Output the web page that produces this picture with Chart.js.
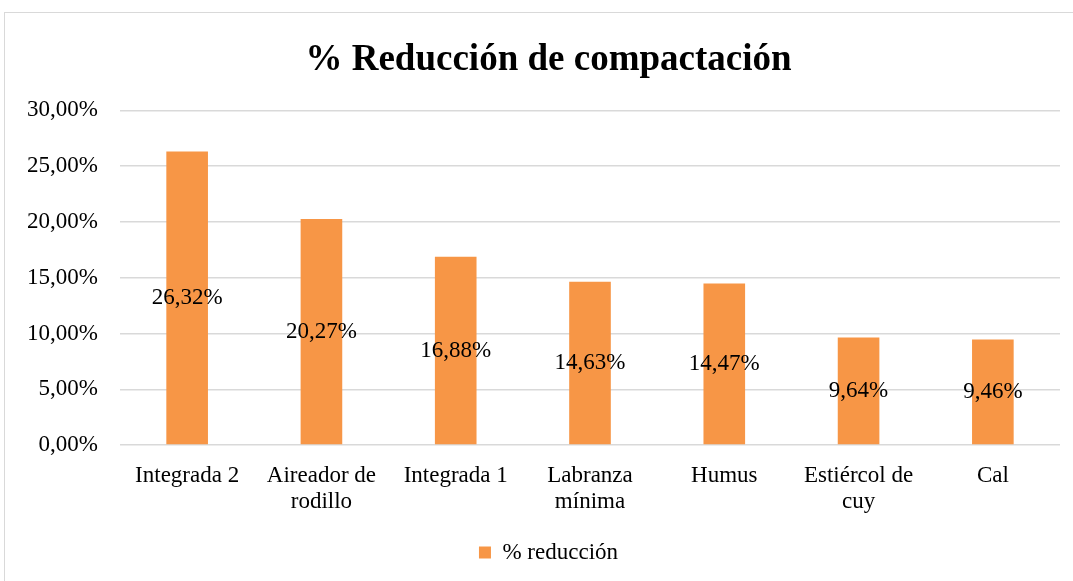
<!DOCTYPE html>
<html>
<head>
<meta charset="utf-8">
<script src="https://cdn.jsdelivr.net/npm/chart.js@4/dist/chart.umd.min.js"></script>
<style>
    body { margin: 0; background: #fff; overflow: hidden; }
    #frame { position: absolute; left: 4px; top: 12px; width: 1090px; height: 600px; border: 1px solid #d9d9d9; box-sizing: border-box; }
    #chart { position: absolute; left: 0; top: 0; }
</style>
</head>
<body>
<div id="frame"></div>
<canvas id="chart" width="1098" height="581"></canvas>
<script>
// Datos del gráfico
const categorias = ['Integrada 2', ['Aireador de', 'rodillo'], 'Integrada 1', ['Labranza', 'mínima'], 'Humus', ['Estiércol de', 'cuy'], 'Cal'];
const reduccion = [26.32, 20.27, 16.88, 14.63, 14.47, 9.64, 9.46];
const serieNombre = '% reducción';
const tituloTexto = '% Reducción de compactación';

const fuente = "'Liberation Serif', 'Times New Roman', serif";

function formatoPct(v, dec = 2) {
    return v.toFixed(dec).replace('.', ',') + '%';
}

// Etiquetas de valor centradas en cada barra
const etiquetasBarras = {
    id: 'etiquetasBarras',
    afterDatasetsDraw(chart) {
        const ctx = chart.ctx;
        const meta = chart.getDatasetMeta(0);
        ctx.save();
        ctx.font = '23px ' + fuente;
        ctx.fillStyle = '#000';
        ctx.textAlign = 'center';
        ctx.textBaseline = 'middle';
        meta.data.forEach((bar, i) => {
            const mid = (bar.y + bar.base) / 2;
            ctx.fillText(formatoPct(reduccion[i]), bar.x, mid);
        });
        ctx.restore();
    }
};

new Chart(document.getElementById('chart'), {
    type: 'bar',
    data: {
        labels: categorias,
        datasets: [{
            label: serieNombre,
            data: reduccion,
            backgroundColor: '#f79646',
            borderWidth: 0,
            categoryPercentage: 1,
            barPercentage: 0.31
        }]
    },
    options: {
        responsive: false, animation: false, devicePixelRatio: 1,
        layout: { padding: { left: 12, right: 13, top: 22, bottom: 7 } },
        scales: {
            x: {
                grid: { display: false },
                border: { display: false },
                ticks: { color: '#000', font: { family: fuente, size: 23, lineHeight: 1.13 }, maxRotation: 0, padding: 10 }
            },
            y: {
                min: 0, max: 30,
                grid: { color: '#d9d9d9', lineWidth: 1.5, drawTicks: false },
                border: { display: false },
                ticks: {
                    stepSize: 5, color: '#000', padding: 22,
                    font: { family: fuente, size: 23 },
                    callback: (v) => formatoPct(v)
                },
                afterFit: (scale) => { scale.width = 108; }
            },
            // eje vacío a la derecha: solo deja el margen del área de trazado
            margen: {
                position: 'right', min: 0, max: 30,
                grid: { display: false }, border: { display: false },
                ticks: { display: false },
                afterFit: (scale) => { scale.width = 25; }
            }
        },
        plugins: {
            title: {
                display: true, text: tituloTexto, color: '#000',
                font: { family: fuente, size: 37, weight: 'bold' },
                padding: { top: 16, bottom: 28 }
            },
            legend: {
                position: 'bottom',
                labels: {
                    color: '#000', boxWidth: 12, boxHeight: 12,
                    font: { family: fuente, size: 23 }, padding: 16
                }
            },
            tooltip: { enabled: false }
        }
    },
    plugins: [etiquetasBarras]
});
</script>
</body>
</html>
